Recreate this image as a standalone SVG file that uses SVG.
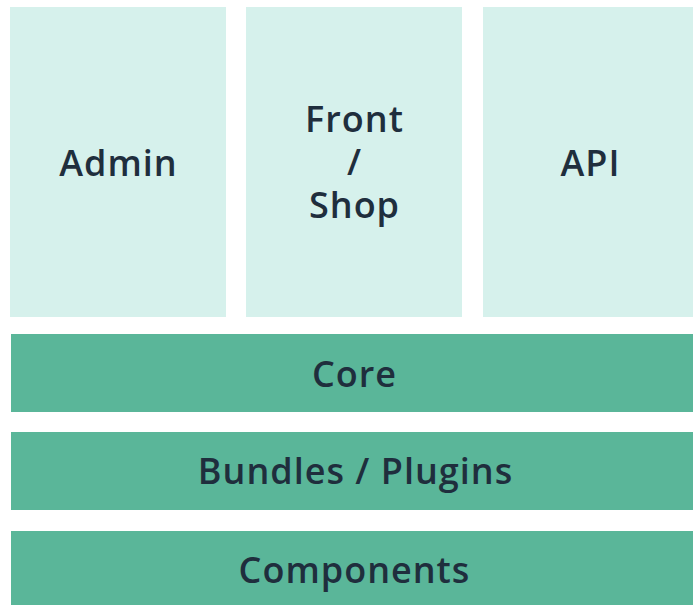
<svg xmlns="http://www.w3.org/2000/svg" width="693" height="605" viewBox="0 0 693 605">
<style>
.light{fill:#d6f1ec}
.dark{fill:#5ab699}
text{font-family:"Open Sans","Noto Sans",sans-serif;font-weight:600;font-size:36px;letter-spacing:1px;fill:#1f2e3d;text-anchor:middle}
</style>
<rect width="693" height="605" fill="#ffffff"/>
<g id="admin"><rect class="light" x="10" y="7" width="216" height="310"/><text x="118.5" y="176">Admin</text></g>
<g id="front"><rect class="light" x="246" y="7" width="216" height="310"/><text x="354.5" y="132">Front<tspan x="354.5" y="175">/</tspan><tspan x="354.5" y="218">Shop</tspan></text></g>
<g id="api"><rect class="light" x="483" y="7" width="210" height="310"/><text x="590.5" y="176">API</text></g>
<g id="core"><rect class="dark" x="11" y="334" width="682" height="78"/><text x="354.5" y="387">Core</text></g>
<g id="bundles"><rect class="dark" x="11" y="432" width="682" height="78"/><text x="355.5" y="484">Bundles / Plugins</text></g>
<g id="components"><rect class="dark" x="11" y="531" width="682" height="74"/><text x="354.5" y="583">Components</text></g>
<g id="connectors"></g>
</svg>
